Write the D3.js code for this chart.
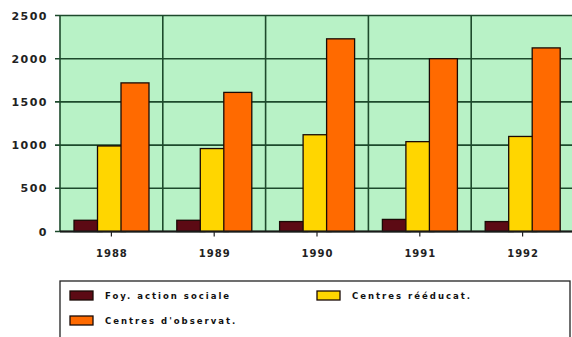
<!DOCTYPE html>
<html><head><meta charset="utf-8">
<script src="https://cdn.jsdelivr.net/npm/d3@7"></script>
<style>body{margin:0;background:#fff;}svg{display:block;}text{font-family:"DejaVu Sans",Arial,sans-serif;font-weight:bold;}</style>
</head><body><svg id="c" width="572" height="337"></svg>
<script>
const years = ["1988","1989","1990","1991","1992"];
const foyer = [130,130,115,140,115];
const reeducat = [990,960,1120,1040,1100];
const observat = [1720,1610,2230,2000,2125];
const seriesNames = ["Foy. action sociale","Centres rééducat.","Centres d'observat."];
const colors = ["#5c0a14","#ffd600","#ff6a00"];
const yTicks = [0,500,1000,1500,2000,2500];

const svg = d3.select("#c");
const L=60, R=574, T=15.5, B=231.5;
const x = d3.scaleBand().domain(years).range([L,R]).padding(0);
const y = d3.scaleLinear().domain([0,2500]).range([B,T]);
const grid="#1d4a2c";

svg.append("rect").attr("x",L).attr("y",T).attr("width",R-L).attr("height",B-T).attr("fill","#b8f2c6");

svg.selectAll(".hg").data(yTicks).join("line")
 .attr("x1",L-5).attr("x2",R).attr("y1",d=>y(d)).attr("y2",d=>y(d))
 .attr("stroke",grid).attr("stroke-width",1.6);
svg.selectAll(".vg").data(years.concat(["end"])).join("line")
 .attr("x1",(d,i)=>L+i*x.bandwidth()).attr("x2",(d,i)=>L+i*x.bandwidth())
 .attr("y1",T).attr("y2",B).attr("stroke",grid).attr("stroke-width",1.6);

const series=[foyer,reeducat,observat];
const bw=28, off=[14,37.5,61];
series.forEach((s,si)=>{
  svg.selectAll(".b"+si).data(s).join("rect")
   .attr("x",(d,i)=>x(years[i])+off[si]).attr("width",bw)
   .attr("y",d=>y(d)).attr("height",d=>B-y(d))
   .attr("fill",colors[si]).attr("stroke","#1a0a05").attr("stroke-width",1.3);
});
svg.append("line").attr("x1",L).attr("x2",R).attr("y1",B).attr("y2",B).attr("stroke","#1a1a1a").attr("stroke-width",1.8);

svg.selectAll(".yl").data(yTicks).join("text")
 .attr("x",48).attr("y",d=>y(d)+4).attr("text-anchor","end")
 .attr("font-size",11).attr("letter-spacing",1.5).attr("fill","#222").text(d=>d);
svg.selectAll(".xt").data(years).join("line")
 .attr("x1",d=>x(d)+x.bandwidth()/2).attr("x2",d=>x(d)+x.bandwidth()/2)
 .attr("y1",B).attr("y2",B+5).attr("stroke","#222").attr("stroke-width",1.2);
svg.selectAll(".xl").data(years).join("text")
 .attr("x",d=>x(d)+x.bandwidth()/2+0.5).attr("y",257).attr("text-anchor","middle")
 .attr("font-size",10).attr("letter-spacing",1).attr("fill","#222").text(d=>d);

svg.append("rect").attr("x",60).attr("y",281).attr("width",510).attr("height",70)
 .attr("fill","#fff").attr("stroke","#222").attr("stroke-width",1.3);
const leg=[{i:0,x:70,y:291},{i:1,x:317,y:291},{i:2,x:70,y:316}];
leg.forEach(l=>{
  svg.append("rect").attr("x",l.x).attr("y",l.y).attr("width",23).attr("height",9)
   .attr("fill",colors[l.i]).attr("stroke","#1a0a05").attr("stroke-width",1.3);
  svg.append("text").attr("x",l.x+35).attr("y",l.y+8).attr("font-size",8.5)
   .attr("letter-spacing",2).attr("fill","#111").text(seriesNames[l.i]);
});
</script></body></html>
